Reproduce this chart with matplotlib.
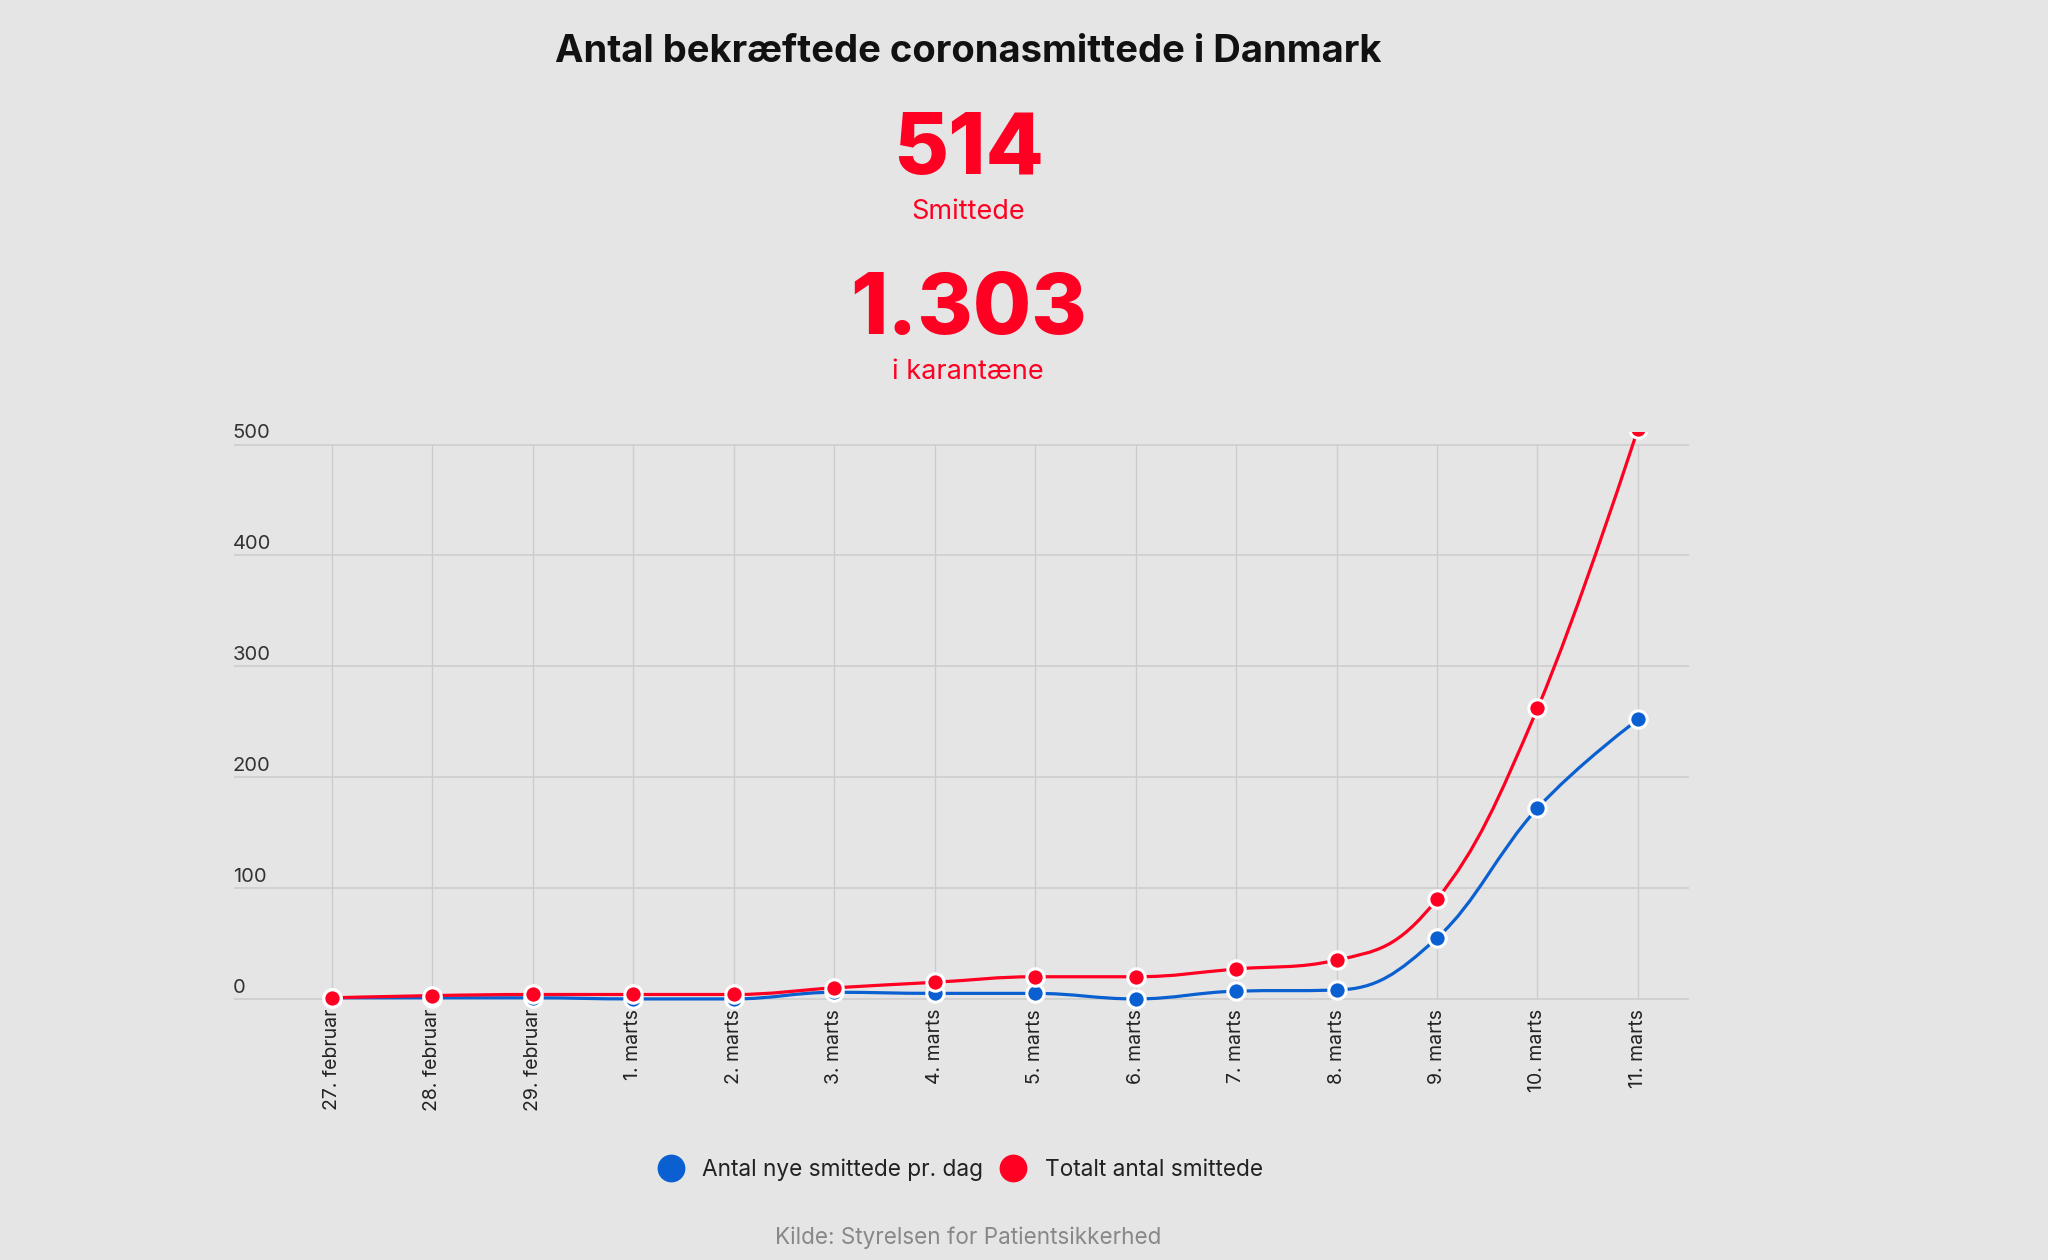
#!/usr/bin/env python3
# -*- coding: utf8 -*-
"""
    Antal bekraeftede coronasmittede i Danmark (27. feb - 11. marts 2020).
    Spline chart with two series, big headline numbers above.
"""

import matplotlib
matplotlib.use('Agg')
import matplotlib.pyplot as plt
from matplotlib.lines import Line2D
from matplotlib.patches import PathPatch
from matplotlib.path import Path

DAYS = ['27. februar', '28. februar', '29. februar', '1. marts', '2. marts',
        '3. marts', '4. marts', '5. marts', '6. marts', '7. marts',
        '8. marts', '9. marts', '10. marts', '11. marts']
NEW_CASES = [1, 1, 1, 0, 0, 6, 5, 5, 0, 7, 8, 55, 172, 252]
TOTAL_CASES = [1, 3, 4, 4, 4, 10, 15, 20, 20, 27, 35, 90, 262, 514]
Y_TICKS = [0, 100, 200, 300, 400, 500]

TITLE = 'Antal bekræftede coronasmittede i Danmark'
HEADLINES = [('514', 'Smittede'), ('1.303', 'i karantæne')]
SERIES_NAMES = ['Antal nye smittede pr. dag', 'Totalt antal smittede']
SOURCE = 'Kilde: Styrelsen for Patientsikkerhed'

BG = '#e5e5e5'
BLUE = '#0a60d0'
RED = '#ff0022'
FONT = ['Inter', 'Roboto', 'DejaVu Sans']


def spline_path(xs, ys, smoothing=1.5):
    """Cubic bezier path through the points (same rule as highcharts spline)."""
    denom = smoothing + 1
    n = len(xs)
    right = [None] * n
    left = [None] * n
    for i in range(1, n - 1):
        px, py = xs[i], ys[i]
        lx, ly = xs[i - 1], ys[i - 1]
        nx, ny = xs[i + 1], ys[i + 1]
        lcx = (smoothing * px + lx) / denom
        lcy = (smoothing * py + ly) / denom
        rcx = (smoothing * px + nx) / denom
        rcy = (smoothing * py + ny) / denom
        corr = 0
        if rcx != lcx:
            corr = (rcy - lcy) * (rcx - px) / (rcx - lcx) + py - rcy
        lcy += corr
        rcy += corr
        if lcy > ly and lcy > py:
            lcy = max(ly, py)
            rcy = 2 * py - lcy
        elif lcy < ly and lcy < py:
            lcy = min(ly, py)
            rcy = 2 * py - lcy
        if rcy > ny and rcy > py:
            rcy = max(ny, py)
            lcy = 2 * py - rcy
        elif rcy < ny and rcy < py:
            rcy = min(ny, py)
            lcy = 2 * py - rcy
        left[i] = (lcx, lcy)
        right[i] = (rcx, rcy)

    verts = [(xs[0], ys[0])]
    codes = [Path.MOVETO]
    for i in range(1, n):
        c1 = right[i - 1] or (xs[i - 1], ys[i - 1])
        c2 = left[i] or (xs[i], ys[i])
        verts += [c1, c2, (xs[i], ys[i])]
        codes += [Path.CURVE4] * 3
    return Path(verts, codes)


def main():
    plt.rcParams['font.family'] = FONT
    fig = plt.figure(figsize=(20.48, 12.6), dpi=100, facecolor=BG)

    # header
    fig.text(0.4727, 0.9590, TITLE, ha='center', va='center',
             fontsize=27.5, fontweight='bold', color='#111111')
    for (num, label), y in zip(HEADLINES, [0.8800, 0.7530]):
        fig.text(0.4727, y, num, ha='center', va='center',
                 fontsize=61, fontweight='heavy', color=RED)
        fig.text(0.4727, y - 0.0480, label, ha='center', va='center',
                 fontsize=19.5, color=RED)

    ax = fig.add_axes([0.1143, 0.1940, 0.7104, 0.4629])
    ax.set_facecolor(BG)
    ax.set_xlim(-0.975, 13.508)
    ax.set_ylim(-15, 511)
    for s in ax.spines.values():
        s.set_visible(False)
    ax.set_xticks([])
    ax.set_yticks([])

    x = list(range(len(DAYS)))

    # grid
    for v in Y_TICKS:
        ax.axhline(v, color='#cfcfcf', lw=1.3, zorder=1)
        ax.text(-0.99, v + 2, str(v), ha='left', va='bottom',
                fontsize=14.5, color='#333333')
    ax.vlines(x, 0, Y_TICKS[-1], color='#cccccc', lw=1.0, zorder=1)

    for i, day in enumerate(DAYS):
        ax.text(i, -9, day, rotation=90, ha='center', va='top',
                fontsize=14, color='#222222', clip_on=False)

    for ys, color in [(NEW_CASES, BLUE), (TOTAL_CASES, RED)]:
        patch = PathPatch(spline_path(x, ys), facecolor='none',
                          edgecolor=color, lw=2.3, zorder=3)
        ax.add_patch(patch)
        ax.plot(x, ys, 'o', color=color, mec='white', mew=2.2, ms=12.5,
                zorder=4)

    handles = [Line2D([], [], ls='', marker='o', ms=19, color=c, mec=c)
               for c in [BLUE, RED]]
    fig.legend(handles, SERIES_NAMES, loc='center',
               bbox_to_anchor=(0.4665, 0.0715), ncol=2, frameon=False,
               fontsize=16.3, handletextpad=0.4, columnspacing=0.3,
               labelcolor='#222222')

    fig.text(0.4727, 0.0175, SOURCE, ha='center', va='center',
             fontsize=16.2, color='#888888')

    fig.savefig('out.png', dpi=100, facecolor=BG)


if __name__ == '__main__':
    main()
